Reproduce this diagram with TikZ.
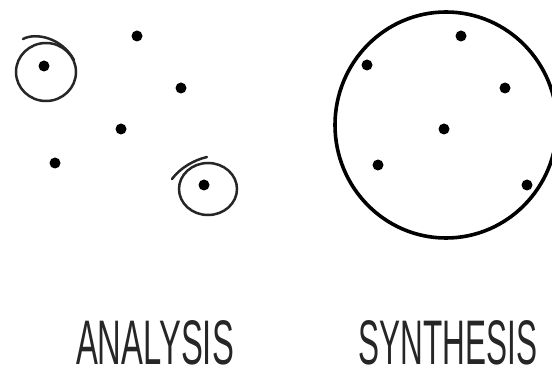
\documentclass[tikz,border=0pt]{standalone}
\usepackage{fontspec}
\setmainfont{Liberation Sans}
\begin{document}
\begin{tikzpicture}[x=1pt,y=-1pt,
  dot/.style={circle,fill=black,inner sep=0pt,minimum size=11pt},
  ring/.style={line width=2.5pt,line cap=round,draw=black!85},
  bigring/.style={line width=3.6pt,draw=black},
  lbl/.style={font=\fontsize{63}{63}\selectfont,text=black!85,inner sep=0pt}]
\useasboundingbox (0,0) rectangle (552,377);
% analysis dots
\node[dot] (a1) at (44,66) {};
\node[dot] (a2) at (137,36) {};
\node[dot] (a3) at (181,88) {};
\node[dot] (a4) at (121,129) {};
\node[dot] (a5) at (55,163) {};
\node[dot] (a6) at (204,185) {};
% rings
\draw[ring] (46,72) ellipse [x radius=30, y radius=29];
\draw[ring] (23,39) .. controls (36,32) and (62,38) .. (74,60);
\draw[ring] (208,189) ellipse [x radius=29, y radius=26];
\draw[ring] (172,179) .. controls (180,168) and (194,160) .. (207,157);
% synthesis
\draw[bigring] (446,125) ellipse [x radius=111, y radius=113];
\node[dot] (s1) at (461,36) {};
\node[dot] (s2) at (367,65) {};
\node[dot] (s3) at (505,88) {};
\node[dot] (s4) at (444,129) {};
\node[dot] (s5) at (378,165) {};
\node[dot] (s6) at (527,185) {};
% labels
\node[lbl] (la) at (155,343) {\scalebox{0.52}[1]{ANALYSIS}};
\node[lbl] (ls) at (448,343) {\scalebox{0.5}[1]{SYNTHESIS}};
\end{tikzpicture}
\end{document}
